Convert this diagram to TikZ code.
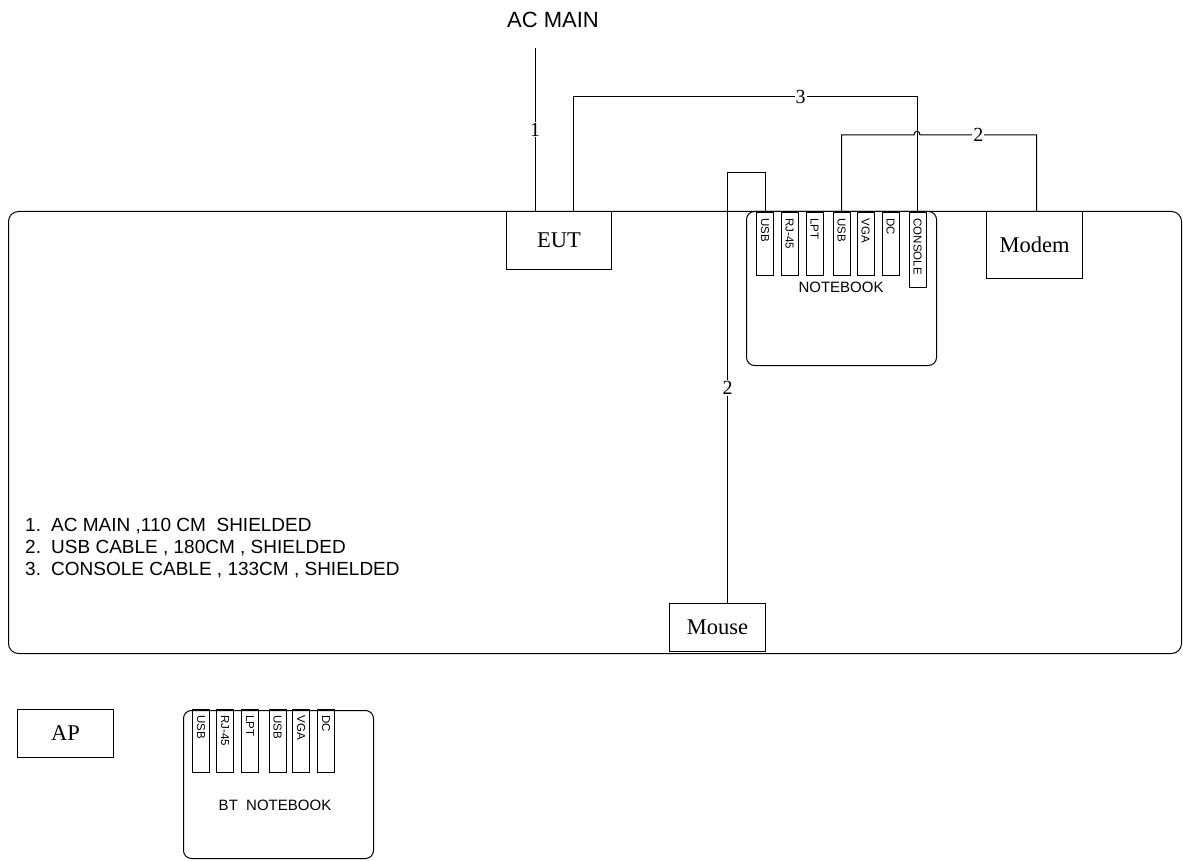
\documentclass[tikz,border=0pt]{standalone}
\usepackage{fontspec}
\setmainfont{Liberation Serif}
\setsansfont{Liberation Sans}

\tikzset{
  box/.style={draw, line width=1pt, inner sep=0pt, anchor=north west, font=\fontsize{22.5}{27}\selectfont},
  port/.style={draw, line width=1pt, rotate=-90, anchor=west, inner xsep=6pt, inner ysep=0pt,
    minimum height=17pt, text width=51pt, align=left, font=\sffamily\fontsize{11.5}{13}\selectfont},
  num/.style={fill=white, inner sep=1pt, font=\fontsize{20}{22}\selectfont},
  cable/.style={line width=1pt},
}

\begin{document}
\begin{tikzpicture}[x=1pt, y=-1pt]
        \useasboundingbox (0,0) rectangle (1183,861);

        % Стол
        \node[draw, line width=1pt, rounded corners=10pt, minimum width=1173pt, minimum height=442pt, anchor=north west] (table) at (8,211) {};

        \node[font=\sffamily\fontsize{22}{26}\selectfont] (acmain) at (553,20) {AC MAIN};
        \coordinate (ac) at (535,48);

        \node[box, minimum width=105pt, minimum height=58pt] (eut) at (506,211) {EUT};
        \node[box, minimum width=96pt, minimum height=67pt] (modem) at (986,211) {Modem};
        \node[box, minimum width=96pt, minimum height=48pt] (mouse) at (669,603) {Mouse};
        \node[box, minimum width=96pt, minimum height=48pt] (ap) at (17,709) {AP};

        % Ноутбук
        \node[draw, line width=1pt, rounded corners=8pt, minimum width=190pt, minimum height=154pt, anchor=north west] (nb) at (746,211) {};
        \node[font=\sffamily\fontsize{15}{18}\selectfont] (nblabel) at (841,287) {NOTEBOOK};
        \node[port] (nbusb1) at (765,212) {USB};
        \node[port] (nbrj) at (789.5,212) {RJ-45};
        \node[port] (nblpt) at (814.5,212) {LPT};
        \node[port] (nbusb2) at (841.5,212) {USB};
        \node[port] (nbvga) at (865.5,212) {VGA};
        \node[port] (nbdc) at (890.5,212) {DC};
        \node[port, text width=63pt] (nbcon) at (917.5,212) {CONSOLE};

        % BT ноутбук
        \node[draw, line width=1pt, rounded corners=8pt, minimum width=190pt, minimum height=148pt, anchor=north west] (bt) at (183,710) {};
        \node[font=\sffamily\fontsize{15}{18}\selectfont] (btlabel) at (275,805) {BT\ \ NOTEBOOK};
        \node[port] (btusb1) at (201,709) {USB};
        \node[port] (btrj) at (225,709) {RJ-45};
        \node[port] (btlpt) at (250,709) {LPT};
        \node[port] (btusb2) at (277.5,709) {USB};
        \node[port] (btvga) at (301,709) {VGA};
        \node[port] (btdc) at (326,709) {DC};

        % Кабели
        \draw[cable] (ac) -- node[num] {1} (ac |- eut.north);
        \draw[cable] ([xshift=14.5pt]eut.north) -- ++(0,-114) -| node[num, pos=0.33] {3} (nbcon.west);
        \draw[cable] (nbusb2.west) |- (914,135) .. controls (914,130) and (920,130) .. (920,135) -| node[num, pos=0.25] {2} ([xshift=2pt]modem.north);
        \draw[cable] (nbusb1.west) -- ++(0,-39) -| node[num, pos=0.75] {2} ([xshift=10pt]mouse.north);

        % Легенда
        \node[anchor=north west, align=left, inner sep=0pt, font=\sffamily\fontsize{19}{22}\selectfont] (legend) at (25,518) {%
          \makebox[26pt][l]{1.}AC MAIN ,110 CM\ \ SHIELDED\\
          \makebox[26pt][l]{2.}USB CABLE , 180CM , SHIELDED\\
          \makebox[26pt][l]{3.}CONSOLE CABLE , 133CM , SHIELDED};
\end{tikzpicture}
\end{document}
